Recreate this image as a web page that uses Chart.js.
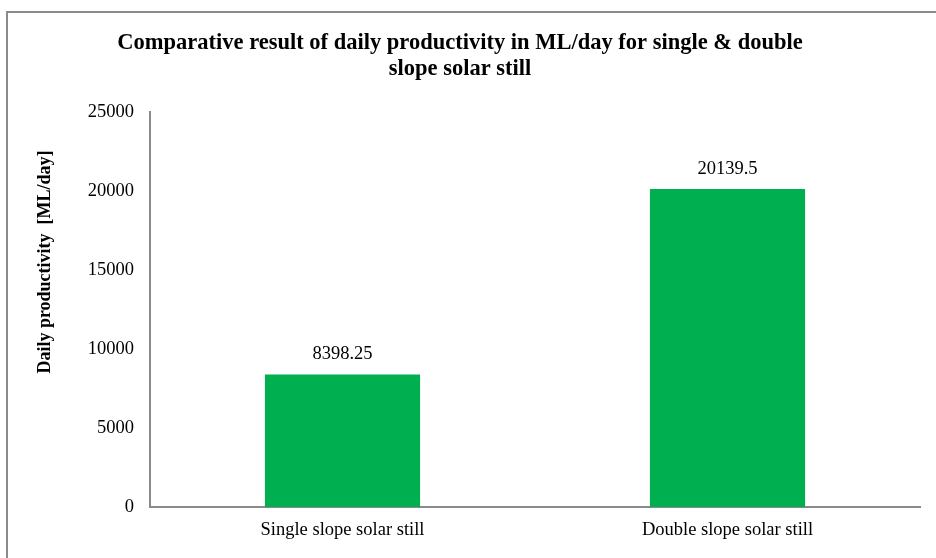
<!DOCTYPE html>
<html>
<head>
<meta charset="utf-8">
<script src="https://cdn.jsdelivr.net/npm/chart.js@4.4.1/dist/chart.umd.min.js"></script>
<style>
  html, body { margin: 0; padding: 0; background: #ffffff; overflow: hidden; }
  #frame { position: absolute; left: 6px; top: 11px; width: 1000px; height: 600px; border: 2px solid #8a8a8a; box-sizing: border-box; }
  #wrap { position: absolute; left: 0; top: 0; width: 936px; height: 558px; }
</style>
</head>
<body>
<div id="frame"></div>
<div id="wrap"><canvas id="c" width="936" height="558"></canvas></div>
<script>
const categories = ["Single slope solar still", "Double slope solar still"];
const productivity = [8398.25, 20139.5];
const valueLabels = ["8398.25", "20139.5"];
const titleLines = ["Comparative result of daily productivity in ML/day for single & double", "slope solar still"];
const yAxisTitle = "Daily productivity  [ML/day]";
const yMin = 0, yMax = 25000, yStep = 5000;

const FONT = "'Liberation Serif', 'Times New Roman', serif";

const valueLabelPlugin = {
  id: 'valueLabels',
  afterDatasetsDraw(chart) {
    const ctx = chart.ctx;
    const meta = chart.getDatasetMeta(0);
    ctx.save();
    ctx.font = "18.5px " + FONT;
    ctx.fillStyle = "#000";
    ctx.textAlign = "center";
    ctx.textBaseline = "middle";
    meta.data.forEach((bar, i) => {
      ctx.fillText(valueLabels[i], bar.x, bar.y - 20);
    });
    ctx.restore();
  }
};

const yTitlePlugin = {
  id: 'yTitle',
  afterDraw(chart) {
    const ctx = chart.ctx;
    ctx.save();
    ctx.translate(45, 262);
    ctx.rotate(-Math.PI / 2);
    ctx.font = "bold 18px " + FONT;
    ctx.fillStyle = "#000";
    ctx.textAlign = "center";
    ctx.textBaseline = "middle";
    ctx.fillText(yAxisTitle, 0, 0);
    ctx.restore();
  }
};

new Chart(document.getElementById('c'), {
  type: 'bar',
  data: {
    labels: categories,
    datasets: [{
      data: productivity,
      backgroundColor: '#00B050',
      borderWidth: 0,
      categoryPercentage: 1.0,
      barPercentage: 0.403
    }]
  },
  options: {
    responsive: false,
    animation: false,
    devicePixelRatio: 1,
    layout: { padding: { left: 0, right: 16, top: 0, bottom: 0 } },
    plugins: {
      legend: { display: false },
      tooltip: { enabled: false },
      title: {
        display: true,
        text: titleLines,
        color: '#000',
        font: { family: FONT, size: 22.5, weight: 'bold', lineHeight: 1.12 },
        padding: { top: 31, bottom: 31 }
      }
    },
    scales: {
      x: {
        grid: { display: false },
        border: { display: true, color: '#8a8a8a', width: 2 },
        ticks: { color: '#000', font: { family: FONT, size: 18.5 }, padding: 4 },
        afterFit(scale) { scale.height = 51; }
      },
      y: {
        min: yMin, max: yMax,
        grid: { display: false },
        border: { display: true, color: '#8a8a8a', width: 2 },
        ticks: {
          stepSize: yStep, color: '#000', font: { family: FONT, size: 18.5 }, padding: 8,
          callback: (v) => String(v)
        },
        afterFit(scale) { scale.width = 150; }
      }
    }
  },
  plugins: [valueLabelPlugin, yTitlePlugin]
});
</script>
</body>
</html>
